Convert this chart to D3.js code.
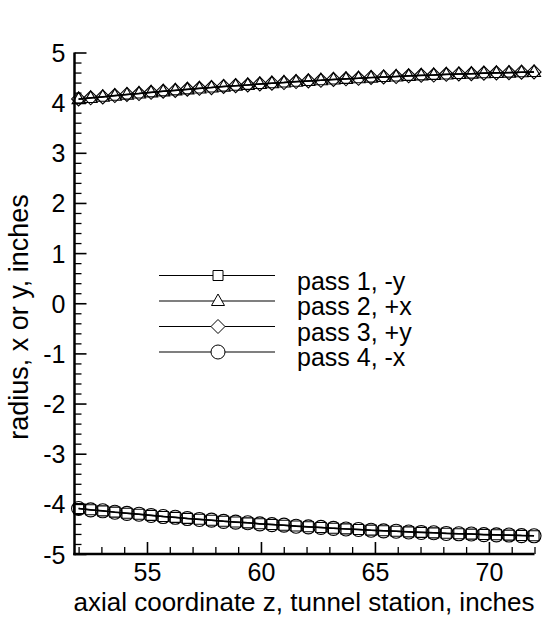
<!DOCTYPE html>
<html>
<head>
<meta charset="utf-8">
<script src="https://cdn.jsdelivr.net/npm/d3@7"></script>
<style>
  html, body { margin: 0; padding: 0; background: #fff; }
  svg { display: block; }
  text { font-family: "Liberation Sans", Arial, Helvetica, sans-serif; fill: #000; }
</style>
</head>
<body>
<svg id="chart" width="543" height="619"></svg>
<script>
// Axial stations along the tunnel (inches)
const stations = [
  52.00, 52.53, 53.06, 53.59, 54.12, 54.65, 55.18, 55.71, 56.24, 56.77,
  57.30, 57.83, 58.36, 58.89, 59.42, 59.95, 60.48, 61.01, 61.54, 62.08,
  62.63, 63.18, 63.73, 64.28, 64.83, 65.38, 65.93, 66.48, 67.03, 67.58,
  68.13, 68.68, 69.23, 69.78, 70.33, 70.88, 71.43, 71.98
];

// Measured wall position for each pass (inches)
const pass1 = [ // -y
  -4.095, -4.118, -4.141, -4.165, -4.186, -4.208, -4.229, -4.251, -4.270, -4.290,
  -4.308, -4.327, -4.346, -4.362, -4.379, -4.397, -4.412, -4.427, -4.443, -4.457,
  -4.472, -4.486, -4.499, -4.512, -4.524, -4.536, -4.547, -4.558, -4.568, -4.578,
  -4.587, -4.595, -4.603, -4.611, -4.617, -4.624, -4.630, -4.635
];
const pass2 = [ // +x
  4.070, 4.094, 4.117, 4.139, 4.161, 4.183, 4.204, 4.225, 4.245, 4.264,
  4.283, 4.302, 4.320, 4.337, 4.354, 4.371, 4.387, 4.402, 4.417, 4.432,
  4.447, 4.461, 4.474, 4.487, 4.499, 4.511, 4.522, 4.533, 4.543, 4.553,
  4.562, 4.570, 4.578, 4.586, 4.592, 4.599, 4.605, 4.610
];
const pass3 = [ // +y
  4.074, 4.097, 4.115, 4.142, 4.164, 4.181, 4.207, 4.228, 4.243, 4.267,
  4.286, 4.300, 4.323, 4.339, 4.352, 4.374, 4.389, 4.400, 4.420, 4.434,
  4.445, 4.464, 4.476, 4.485, 4.502, 4.513, 4.520, 4.536, 4.545, 4.551,
  4.565, 4.572, 4.576, 4.589, 4.594, 4.597, 4.608, 4.612
];
const pass4 = [ // -x
  -4.092, -4.121, -4.139, -4.168, -4.189, -4.206, -4.232, -4.253, -4.268, -4.293,
  -4.311, -4.325, -4.349, -4.365, -4.377, -4.400, -4.414, -4.425, -4.446, -4.460,
  -4.470, -4.489, -4.501, -4.510, -4.527, -4.538, -4.545, -4.561, -4.570, -4.576,
  -4.590, -4.597, -4.601, -4.614, -4.619, -4.622, -4.633, -4.637
];

const seriesNames = ["pass 1, -y", "pass 2, +x", "pass 3, +y", "pass 4, -x"];
const seriesSymbols = ["square", "triangle", "diamond", "circle"];

const xMajorTicks = [55, 60, 65, 70];
const yMajorTicks = [-5, -4, -3, -2, -1, 0, 1, 2, 3, 4, 5];

const xTitle = "axial coordinate z, tunnel station, inches";
const yTitle = "radius, x or y, inches";

const svg = d3.select("#chart");

const x = d3.scaleLinear().domain([51.82, 72.0]).range([74.5, 534.5]);
const y = d3.scaleLinear().domain([-5, 5]).range([554, 52.5]);

// symbol path generators centred on (0,0)
function symbolPath(kind) {
  switch (kind) {
    case "square": { const h = 5; return `M${-h},${-h}H${h}V${h}H${-h}Z`; }
    case "triangle": return "M0,-7L6.5,4.5L-6.5,4.5Z";
    case "diamond": { const h = 7; return `M0,${-h}L${h},0L0,${h}L${-h},0Z`; }
    case "circle": { const r = 7; return `M${r},0A${r},${r} 0 1,1 ${-r},0A${r},${r} 0 1,1 ${r},0Z`; }
  }
}

const allSeries = [pass1, pass2, pass3, pass4];

// plain hyphen for negative labels
const intLabel = d => String(d);

const fontSize = 25;
const axisW = 2.5;

function styleAxis(g) {
  g.select(".domain").remove();
  g.selectAll(".tick line").attr("stroke", "#000").attr("stroke-width", 1.6);
  g.selectAll("text").attr("font-size", fontSize)
    .attr("font-family", '"Liberation Sans", Arial, sans-serif').attr("fill", "#000");
}

const yMinor = d3.range(-50, 51, 2).map(v => v / 10).filter(v => !yMajorTicks.includes(v));
const xMinor = d3.range(52, 73).filter(v => !xMajorTicks.includes(v));

// minor ticks, pointing into the plot
svg.append("g").attr("transform", `translate(${x.range()[0]},0)`)
  .call(d3.axisLeft(y).tickValues(yMinor).tickSize(-7).tickSizeOuter(0).tickFormat(""))
  .call(g => g.select(".domain").remove())
  .call(g => g.selectAll(".tick line").attr("stroke", "#000").attr("stroke-width", 1.3));

svg.append("g").attr("transform", `translate(0,${y.range()[0]})`)
  .call(d3.axisBottom(x).tickValues(xMinor).tickSize(-7).tickSizeOuter(0).tickFormat(""))
  .call(g => g.select(".domain").remove())
  .call(g => g.selectAll(".tick line").attr("stroke", "#000").attr("stroke-width", 1.3));

// major ticks with labels
svg.append("g").attr("transform", `translate(${x.range()[0]},0)`)
  .call(d3.axisLeft(y).tickValues(yMajorTicks).tickSize(-12).tickSizeOuter(0).tickPadding(9)
    .tickFormat(intLabel))
  .call(styleAxis)
  .call(g => g.selectAll("text").attr("dy", "0.36em"));

svg.append("g").attr("transform", `translate(0,${y.range()[0]})`)
  .call(d3.axisBottom(x).tickValues(xMajorTicks).tickSize(-12).tickSizeOuter(0)
    .tickFormat(intLabel))
  .call(styleAxis)
  .call(g => g.selectAll("text").attr("y", 27).attr("dy", 0));

// axis lines (left and bottom only)
svg.append("line").attr("x1", x.range()[0]).attr("x2", x.range()[0])
  .attr("y1", y.range()[1]).attr("y2", y.range()[0] + axisW / 2)
  .attr("stroke", "#000").attr("stroke-width", axisW);
svg.append("line").attr("x1", x.range()[0] - axisW / 2).attr("x2", x.range()[1])
  .attr("y1", y.range()[0]).attr("y2", y.range()[0])
  .attr("stroke", "#000").attr("stroke-width", axisW);

// axis titles
svg.append("text").attr("x", 304).attr("y", 611).attr("text-anchor", "middle")
  .attr("font-size", 26).text(xTitle);
svg.append("text").attr("transform", "translate(28,317) rotate(-90)")
  .attr("text-anchor", "middle").attr("font-size", 27).text(yTitle);

// data lines and symbols
const line = d3.line().x((d, i) => x(stations[i])).y(d => y(d));
const plot = svg.append("g");
allSeries.forEach(vals => {
  plot.append("path").datum(vals).attr("d", line)
    .attr("fill", "none").attr("stroke", "#000").attr("stroke-width", 1.5);
});
allSeries.forEach((vals, k) => {
  plot.append("g").selectAll("path").data(vals).join("path")
    .attr("transform", (d, i) => `translate(${x(stations[i])},${y(d)})`)
    .attr("d", symbolPath(seriesSymbols[k]))
    .attr("fill", "none").attr("stroke", "#000").attr("stroke-width", 1.1);
});

// legend
const legendRows = [275.5, 301, 326.5, 352];
const legend = svg.append("g");
seriesNames.forEach((name, k) => {
  const ly = legendRows[k];
  legend.append("line").attr("x1", 159).attr("x2", 275).attr("y1", ly).attr("y2", ly)
    .attr("stroke", "#000").attr("stroke-width", 1.2);
  legend.append("path").attr("transform", `translate(218,${ly})`)
    .attr("d", symbolPath(seriesSymbols[k]))
    .attr("fill", "#fff").attr("stroke", "#000").attr("stroke-width", 1);
  legend.append("text").attr("x", 297).attr("y", ly + 14).attr("font-size", 25).text(name);
});
</script>
</body>
</html>
